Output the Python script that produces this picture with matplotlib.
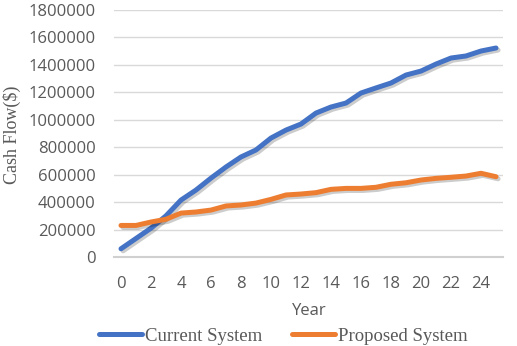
import matplotlib
matplotlib.use("Agg")
import matplotlib.pyplot as plt
import matplotlib.patheffects as pe
import numpy as np

years = list(range(26))
current_system = [60000, 135000, 210000, 300000, 415000, 488000, 575000, 656000, 729000, 780000,
                  867000, 925000, 969000, 1049000, 1093000, 1122000, 1195000, 1232000, 1268000,
                  1326000, 1355000, 1406000, 1450000, 1465000, 1501000, 1523000]
proposed_system = [230000, 230000, 255000, 275000, 320000, 328000, 342000, 372000, 379000, 393000,
                   420000, 452000, 459000, 469000, 493000, 500000, 500000, 508000, 530000, 541000,
                   561000, 573000, 581000, 590000, 610000, 585000]
xtick_labels = [str(v) for v in range(0, 25, 2)]
ytick_values = list(range(0, 1800001, 200000))

W, H = 517, 346
fig = plt.figure(figsize=(W / 100, H / 100), dpi=100)
ax = fig.add_axes([113.5 / W, (H - 257) / H, 390 / W, 247 / H])

shadow = [pe.SimpleLineShadow(offset=(1.5, -1.5), alpha=0.2, shadow_color='black'), pe.Normal()]
l1, = ax.plot(years, current_system, color='#4472C4', lw=3.6, solid_capstyle='round',
              solid_joinstyle='round', path_effects=shadow, label='Current System')
l2, = ax.plot(years, proposed_system, color='#ED7D31', lw=3.6, solid_capstyle='round',
              solid_joinstyle='round', path_effects=shadow, label='Proposed System')

ax.set_xlim(-0.5, 25.5)
ax.set_ylim(0, 1800000)
ax.set_xticks(range(0, 25, 2))
ax.set_xticklabels(xtick_labels)
ax.set_yticks(ytick_values)
ax.set_yticklabels([str(v) for v in ytick_values])

for s in ['top', 'right', 'left']:
    ax.spines[s].set_visible(False)
ax.spines['bottom'].set_color('#d0d0d0')
ax.spines['bottom'].set_linewidth(1.5)
ax.grid(axis='y', color='#d9d9d9', lw=1.0)
ax.set_axisbelow(True)
ax.tick_params(axis='both', length=0, colors='#595959', labelsize=12)
ax.tick_params(axis='x', pad=14)
ax.tick_params(axis='y', pad=13)
for t in ax.get_xticklabels() + ax.get_yticklabels():
    t.set_fontfamily('Open Sans')

fig.text(309 / W, 1 - 311 / H, 'Year', ha='center', va='center', fontsize=12,
         family='Open Sans', color='#595959')
fig.text(12 / W, 1 - 135 / H, 'Cash Flow($)', ha='center', va='center', rotation=90,
         fontsize=13, family='Liberation Serif', color='#595959')

leg = fig.legend(handles=[l1, l2], loc='center', bbox_to_anchor=(283 / W, 1 - 336 / H),
                 ncol=2, frameon=False, prop={'family': 'Liberation Serif', 'size': 13.5},
                 handlelength=2.3, handletextpad=0.15, columnspacing=1.6, borderpad=0)
for t in leg.get_texts():
    t.set_color('#595959')
for h in leg.get_lines():
    h.set_path_effects([])

fig.savefig('out.png', dpi=100)
